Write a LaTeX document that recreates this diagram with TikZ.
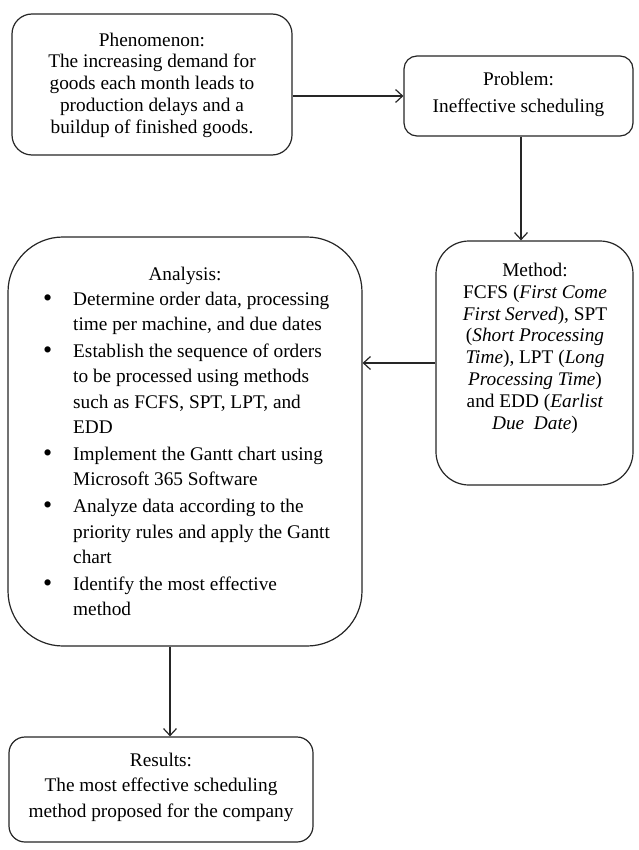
\documentclass[tikz,border=0pt]{standalone}
\usepackage{fontspec}
\setmainfont{Liberation Serif}
\usetikzlibrary{arrows.meta}
\newcommand{\bigbul}{\raisebox{-1pt}{\fontsize{26}{25}\selectfont\textbullet}}
\begin{document}
\begin{tikzpicture}[x=1pt,y=-1pt,
  box/.style={draw=black!85, line width=1.2pt, inner sep=0pt, fill=white},
  lbl/.style={inner sep=0pt, anchor=north, align=center, text=black},
  arr/.style={draw=black!85, line width=1.2pt, -{Straight Barb[length=7pt,width=13pt,line width=1.2pt]}}
]
\useasboundingbox (0,0) rectangle (638,850);
% boxes
\node[box, rounded corners=20pt, minimum width=280pt, minimum height=141pt] (phen) at (152,84.5) {};
\node[box, rounded corners=13pt, minimum width=229pt, minimum height=80pt] (prob) at (518.5,96) {};
\node[box, rounded corners=33pt, minimum width=197pt, minimum height=244pt] (meth) at (534.5,363) {};
\node[box, rounded corners=55pt, minimum width=354pt, minimum height=409pt] (anal) at (185,441.5) {};
\node[box, rounded corners=16pt, minimum width=304pt, minimum height=105pt] (res) at (161,789.5) {};
% texts
\node[lbl, font=\fontsize{19.3}{21.75}\selectfont] (phent) at (152,30.8)
  {\strut Phenomenon:\\ The increasing demand for\\ goods each month leads to\\ production delays and a\\ buildup of finished goods.};
\node[lbl, font=\fontsize{19.3}{27}\selectfont] (probt) at (518.5,66.1)
  {\strut Problem:\\ Ineffective scheduling};
\node[lbl, font=\fontsize{19.3}{21.9}\selectfont] (metht) at (535,260.7)
  {\strut Method:\\ FCFS (\textit{First Come}\\ \textit{First Served}), SPT\\ (\textit{Short Processing}\\ \textit{Time}), LPT (\textit{Long}\\ \textit{Processing Time})\\ and EDD (\textit{Earlist}\\ \textit{Due~ Date})};
\node[inner sep=0pt, anchor=base, font=\fontsize{19.3}{25.2}\selectfont] (analt) at (185,280) {Analysis:};
\node[inner sep=0pt, anchor=north west, align=left, font=\fontsize{19.3}{25.2}\selectfont] (anall) at (43,287.4)
  {\begin{tabular}{@{}p{30pt}@{}l@{}}
   \bigbul & Determine order data, processing\\
   & time per machine, and due dates\\[2pt]
   \bigbul & Establish the sequence of orders\\
   & to be processed using methods\\
   & such as FCFS, SPT, LPT, and\\
   & EDD\\[2pt]
   \bigbul & Implement the Gantt chart using\\
   & Microsoft 365 Software\\[2pt]
   \bigbul & Analyze data according to the\\
   & priority rules and apply the Gantt\\
   & chart\\[2pt]
   \bigbul & Identify the most effective\\
   & method
   \end{tabular}};
\node[lbl, font=\fontsize{19.3}{25.5}\selectfont] (rest) at (161,748.15)
  {\strut Results:\\ The most effective scheduling\\ method proposed for the company};
% connectors
\coordinate (xa) at (170,0);
\coordinate (xb) at (521,0);
\draw[arr] (phen.east |- prob.west) -- (prob.west);
\draw[arr] (prob.south -| xb) -- (meth.north -| xb);
\draw[arr] (meth.west) -- (meth.west -| anal.east);
\draw[arr] (anal.south -| xa) -- (res.north -| xa);
\end{tikzpicture}
\end{document}
